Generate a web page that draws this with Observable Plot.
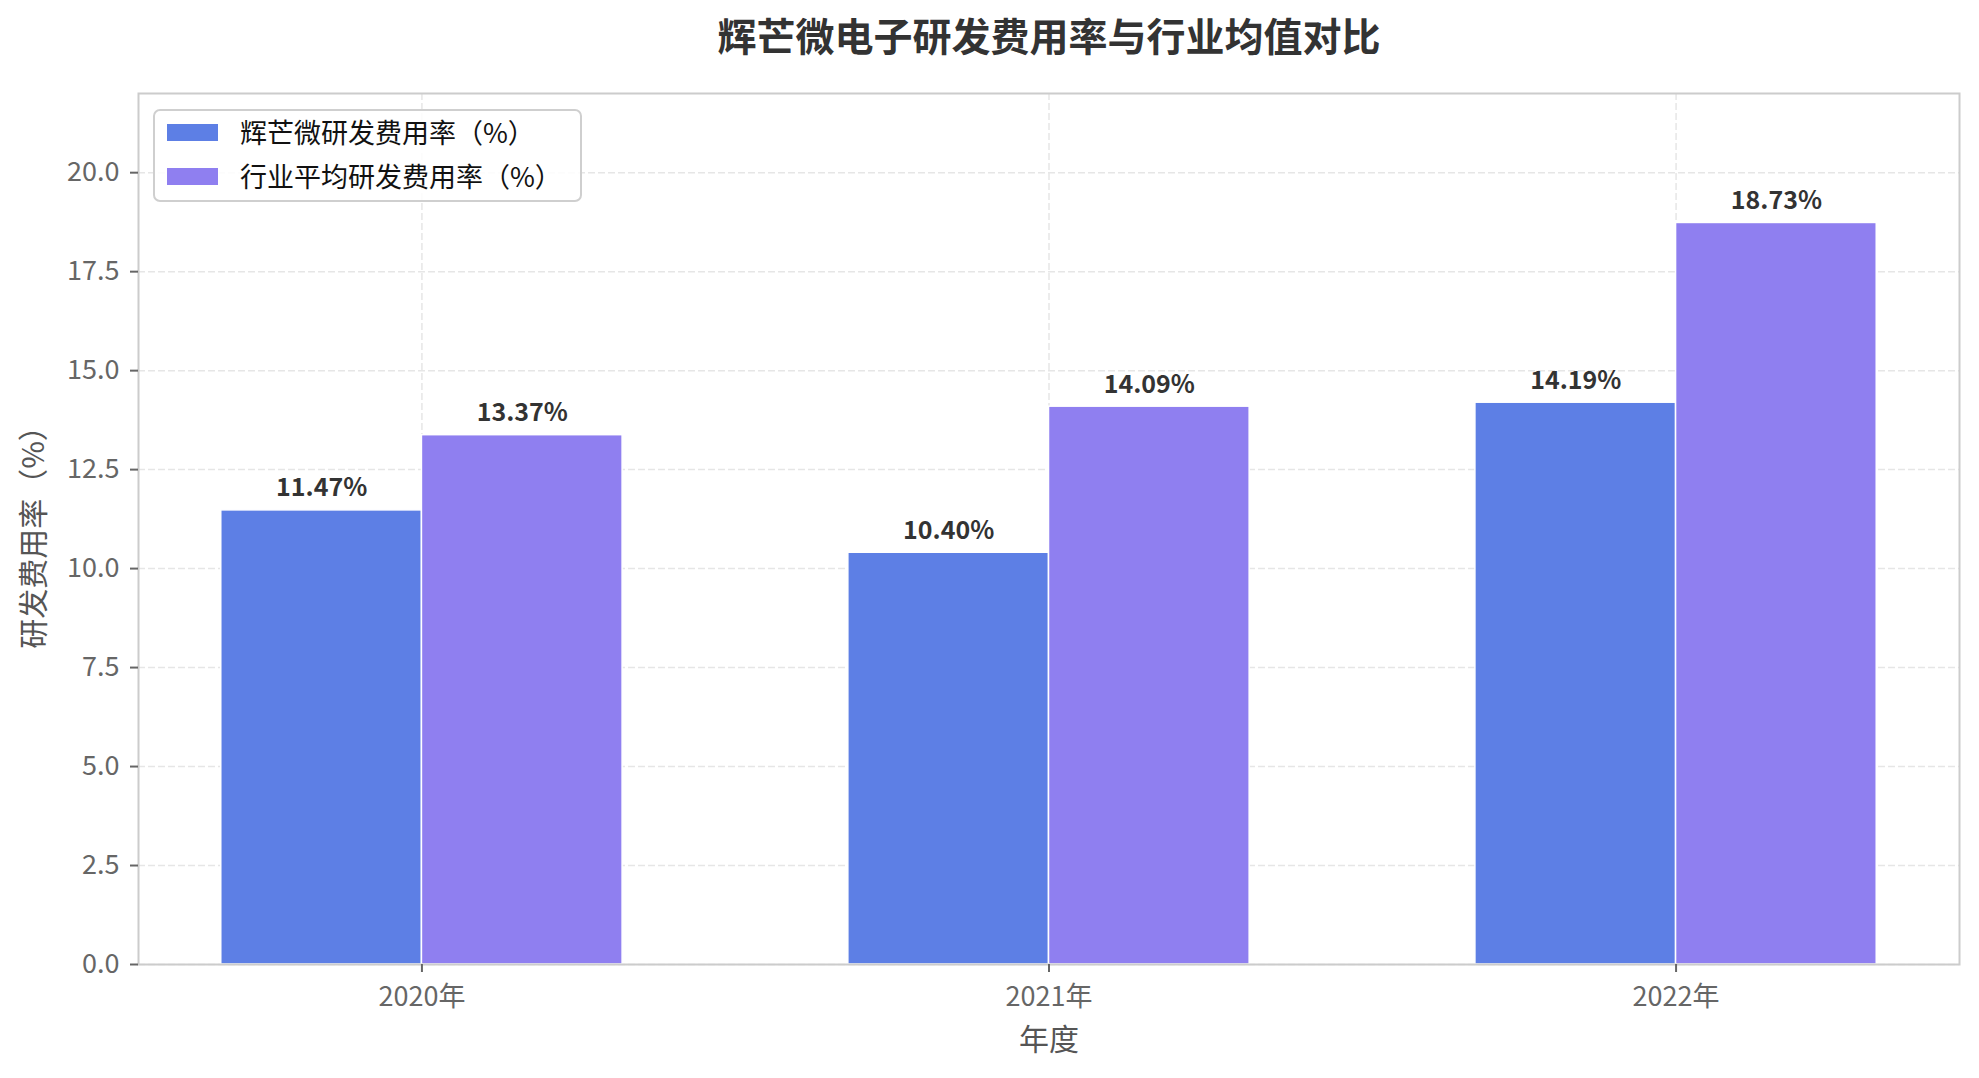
<!DOCTYPE html>
<html>
<head>
<meta charset="utf-8">
<script src="https://cdn.jsdelivr.net/npm/d3@7"></script>
<script src="https://cdn.jsdelivr.net/npm/@observablehq/plot@0.6"></script>
<style>
  html, body { margin: 0; padding: 0; background: #fff; overflow: hidden; }
  #wrap { position: relative; width: 1979px; height: 1078px; font-family: "Noto Sans CJK SC", "Noto Sans", sans-serif; }
  #legend { position: absolute; left: 153px; top: 109px; width: 425px; height: 89px;
    border: 2px solid #cfcfcf; border-radius: 7px; background: rgba(255,255,255,0.85); box-sizing: content-box; }
  .sw { position: absolute; left: 11px; width: 53px; height: 19px; box-sizing: border-box; border: 1px solid #fff; }
  .lt { position: absolute; left: 85px; font-size: 27px; color: #111; white-space: nowrap; line-height: 30px; }
</style>
</head>
<body>
<div id="wrap"></div>
<script>
const title = "辉芒微电子研发费用率与行业均值对比";
const years = ["2020年", "2021年", "2022年"];
const seriesNames = ["辉芒微研发费用率（%）", "行业平均研发费用率（%）"];
const huimang = [11.47, 10.40, 14.19];
const industry = [13.37, 14.09, 18.73];
const colors = ["#5D7FE5", "#8F7FF0"];
const yTicks = [0, 2.5, 5, 7.5, 10, 12.5, 15, 17.5, 20];
const xLabel = "年度";
const yLabel = "研发费用率（%）";

const barW = 0.32;
const rows = years.flatMap((y, i) => [
  {i, s: 0, v: huimang[i]},
  {i, s: 1, v: industry[i]}
]);
const x1 = d => d.i + (d.s === 0 ? -barW : 0);
const x2 = d => d.i + (d.s === 0 ? 0 : barW);
const xm = d => d.i + (d.s === 0 ? -barW / 2 : barW / 2);

const plot = Plot.plot({
  width: 1979,
  height: 1078,
  marginLeft: 138,
  marginRight: 20,
  marginTop: 93,
  marginBottom: 114,
  style: {fontFamily: "'Noto Sans CJK SC', 'Noto Sans', sans-serif", fontSize: "27px", background: "#fff"},
  x: {domain: [-0.452, 2.452], axis: null},
  y: {domain: [0, 22], axis: null},
  color: {domain: seriesNames, range: colors},
  marks: [
    Plot.gridY(yTicks, {stroke: "#e6e6e6", strokeOpacity: 1, strokeWidth: 1.5, strokeDasharray: "7,3"}),
    Plot.gridX([0, 1, 2], {stroke: "#e6e6e6", strokeOpacity: 1, strokeWidth: 1.5, strokeDasharray: "7,3"}),
    Plot.rect(rows, {x1, x2, y1: 0, y2: "v", fill: d => seriesNames[d.s], stroke: "white", strokeWidth: 1.5}),
    Plot.frame({stroke: "#cccccc", strokeWidth: 2}),
    Plot.axisY({ticks: yTicks, tickFormat: d3.format(".1f"), tickSize: 8, tickPadding: 11, color: "#666", strokeWidth: 2, label: null, fontSize: 27}),
    Plot.axisX({ticks: [0, 1, 2], tickFormat: i => years[i], tickSize: 8, tickPadding: 14, color: "#666", strokeWidth: 2, label: null, fontSize: 27}),
    Plot.text(rows, {x: xm, y: "v", text: d => d.v.toFixed(2) + "%", lineAnchor: "bottom", dy: -14, fontWeight: "bold", fontSize: 25, fill: "#333"}),
    Plot.text([title], {frameAnchor: "top", dy: -55, fontSize: 39, fontWeight: "bold", fill: "#333", lineAnchor: "middle"}),
    Plot.text([xLabel], {frameAnchor: "bottom", dy: 76, fontSize: 30, fill: "#555", lineAnchor: "middle"}),
    Plot.text([yLabel], {frameAnchor: "left", dx: -104, dy: 1, rotate: -90, fontSize: 30, fill: "#555", textAnchor: "middle", lineAnchor: "middle"})
  ]
});

const wrap = document.getElementById("wrap");
wrap.appendChild(plot);

const legend = document.createElement("div");
legend.id = "legend";
seriesNames.forEach((name, k) => {
  const sw = document.createElement("div");
  sw.className = "sw";
  sw.style.background = colors[k];
  sw.style.top = (k === 0 ? 12 : 56) + "px";
  const lt = document.createElement("div");
  lt.className = "lt";
  lt.textContent = name;
  lt.style.top = (k === 0 ? 6 : 50) + "px";
  legend.appendChild(sw);
  legend.appendChild(lt);
});
wrap.appendChild(legend);
</script>
</body>
</html>
